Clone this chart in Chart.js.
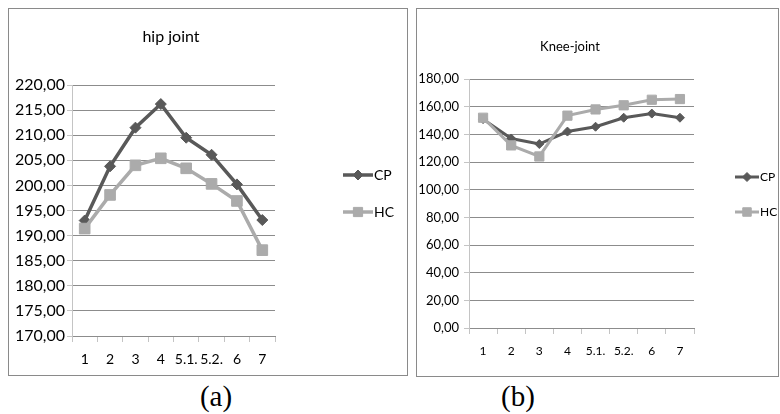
<!DOCTYPE html>
<html>
<head>
<meta charset="utf-8">
<script src="https://cdn.jsdelivr.net/npm/chart.js@4.4.1/dist/chart.umd.min.js"></script>
<style>
  html,body{margin:0;padding:0;background:#fff;width:780px;height:414px;overflow:hidden}
  .panel{position:absolute;border:1px solid #8a8a8a;box-sizing:border-box}
  .panel canvas{display:block}
  .cap{position:absolute;font-family:"Liberation Serif",serif;font-size:29px;color:#000;transform:translateX(-50%);line-height:1}
</style>
</head>
<body>
<div class="panel" style="left:8px;top:8px;width:400px;height:368px"><canvas id="cA" width="398" height="366"></canvas></div>
<div class="panel" style="left:416px;top:8px;width:363px;height:369px"><canvas id="cB" width="361" height="367"></canvas></div>
<div class="cap" style="left:216px;top:382px">(a)</div>
<div class="cap" style="left:518px;top:382px">(b)</div>
<script>
// 資料
const labels  = ['1','2','3','4','5.1.','5.2.','6','7'];
const hipCP   = [193.0, 203.8, 211.5, 216.2, 209.5, 206.1, 200.2, 193.1];
const hipHC   = [191.4, 198.1, 204.0, 205.4, 203.4, 200.3, 196.9, 187.1];
const kneeCP  = [151.0, 137.0, 133.0, 142.0, 145.5, 152.0, 155.0, 152.0];
const kneeHC  = [152.0, 132.0, 124.0, 153.5, 158.0, 161.0, 165.0, 165.5];
const hipAxis  = {min:170, max:220, step:5};
const kneeAxis = {min:0, max:180, step:20};
const seriesNames = ['CP','HC'];

const CP_COL='#595959', HC_COL='#ababab';
const FONT='Lato, "Liberation Sans", sans-serif';
const fmt = v=>v.toFixed(2).replace('.',',');

// 標題 + 圖例（線+標記）
const deco = {
  id:'deco',
  afterDraw(chart, args, o){
    const ctx = chart.ctx;
    ctx.save();
    ctx.fillStyle='#000';
    ctx.font = o.titleSize+'px '+FONT;
    ctx.textAlign='center'; ctx.textBaseline='middle';
    ctx.fillText(o.title, o.titleX, o.titleY);
    chart.data.datasets.forEach((ds,i)=>{
      const y=o.legY[i];
      ctx.strokeStyle=ds.borderColor; ctx.lineWidth=ds.borderWidth;
      ctx.beginPath(); ctx.moveTo(o.legX,y); ctx.lineTo(o.legX+o.legLen,y); ctx.stroke();
      ctx.fillStyle=ds.borderColor; ctx.lineWidth=1;
      Chart.helpers.drawPoint(ctx,{pointStyle:ds.pointStyle,radius:o.legR[i],borderWidth:1,rotation:0},o.legX+o.legLen/2,y);
      ctx.fillStyle='#000';
      ctx.font=o.legSize+'px '+FONT;
      ctx.textAlign='left';
      ctx.fillText(ds.label, o.legX+o.legLen+1, y);
    });
    ctx.restore();
  }
};

function mkChart(id, cp, hc, ax, L){
  return new Chart(document.getElementById(id),{
    type:'line',
    data:{labels, datasets:[
      {label:seriesNames[0], data:cp, borderColor:CP_COL, backgroundColor:CP_COL, borderWidth:L.lw,
       pointStyle:'rectRot', pointRadius:L.rCP, pointBorderWidth:1, pointBackgroundColor:CP_COL, order:1},
      {label:seriesNames[1], data:hc, borderColor:HC_COL, backgroundColor:HC_COL, borderWidth:L.lw,
       pointStyle:'rect', pointRadius:L.rHC, pointBorderWidth:1, pointBackgroundColor:HC_COL, order:0},
    ]},
    options:{
      responsive:false, animation:false,
      layout:{padding:{top:L.top,right:L.right,left:0,bottom:0}},
      plugins:{legend:{display:false}, tooltip:{enabled:false}, deco:L.deco},
      scales:{
        x:{offset:true,
           grid:{offset:true,drawOnChartArea:false,tickLength:6,tickColor:'#c4c4c4'},
           border:{color:'#8c8c8c'},
           ticks:{color:'#000',padding:L.xPad,font:{family:FONT,size:L.xSize},maxRotation:0,autoSkip:false},
           afterFit:s=>{s.height=L.xH;}},
        y:{min:ax.min,max:ax.max,
           grid:{color:'#8c8c8c',tickLength:5,tickColor:'#c4c4c4'},
           border:{color:'#c4c4c4'},
           ticks:{stepSize:ax.step,color:'#000',padding:L.yPad,font:{family:FONT,size:L.ySize},callback:v=>fmt(v)},
           afterFit:s=>{s.width=L.yW;}}
      }
    },
    plugins:[deco]
  });
}

mkChart('cA', hipCP, hipHC, hipAxis, {
  lw:3.5, rCP:5.5, rHC:7.5, top:76, right:132, xH:39, yW:63, xPad:9, yPad:2, xSize:14, ySize:16,
  deco:{title:'hip joint', titleX:162, titleY:28, titleSize:16, legX:334, legLen:30, legY:[166,203], legR:[5,6.5], legSize:14}
});
mkChart('cB', kneeCP, kneeHC, kneeAxis, {
  lw:3, rCP:4.5, rHC:6.5, top:70, right:84, xH:48, yW:52, xPad:10, yPad:5, xSize:12, ySize:13,
  deco:{title:'Knee-joint', titleX:153, titleY:38, titleSize:13, legX:318, legLen:24, legY:[168,203], legR:[4.5,6], legSize:12}
});
</script>
</body>
</html>
